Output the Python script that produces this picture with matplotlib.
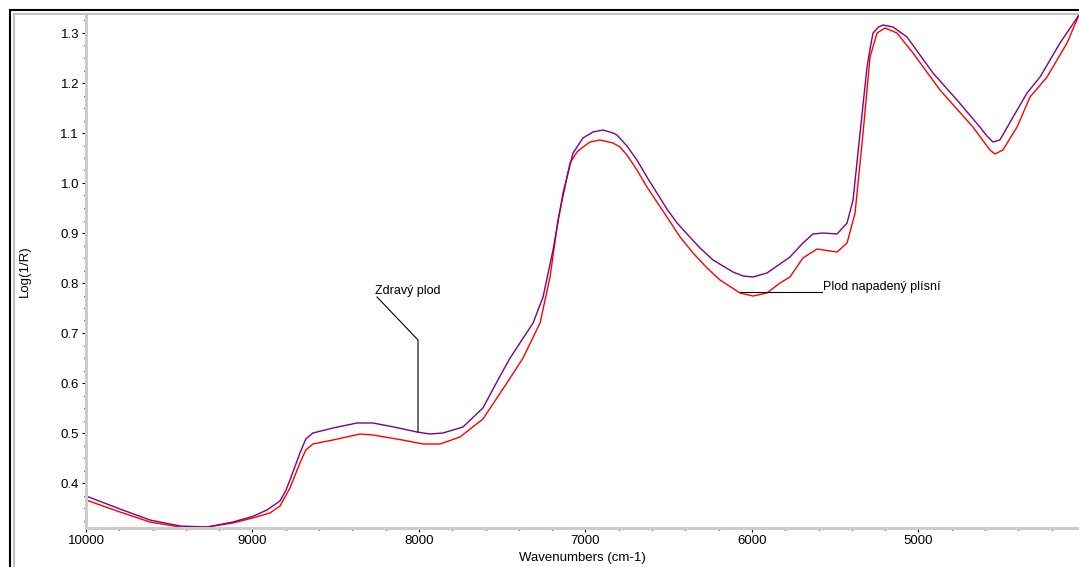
import numpy as np
import matplotlib
matplotlib.use("Agg")
import matplotlib.pyplot as plt
from matplotlib.lines import Line2D
from matplotlib.ticker import MultipleLocator

plt.rcParams['font.family'] = ['Liberation Sans', 'DejaVu Sans']

# zdravy plod (fialova)
wn_zdravy = [10000, 9796, 9616, 9435, 9273, 9117, 9000, 8913, 8835, 8800, 8775, 8715,
             8680, 8637, 8517, 8372, 8276, 8150, 8012, 7934, 7856, 7736, 7616, 7526,
             7453, 7315, 7255, 7195, 7135, 7075, 7015, 6955, 6895, 6835, 6811, 6751,
             6691, 6631, 6571, 6511, 6450, 6390, 6312, 6234, 6114, 6054, 5994, 5910,
             5832, 5772, 5694, 5634, 5574, 5489, 5429, 5393, 5351, 5309, 5290, 5273,
             5240, 5213, 5153, 5069, 4913, 4769, 4631, 4589, 4553, 4511, 4432, 4348,
             4270, 4150, 4036]
log_zdravy = [0.374, 0.348, 0.326, 0.314, 0.312, 0.322, 0.333, 0.346, 0.364, 0.385, 0.406, 0.46,
              0.488, 0.50, 0.51, 0.52, 0.52, 0.512, 0.502, 0.498, 0.50, 0.512, 0.55, 0.606,
              0.65, 0.72, 0.772, 0.866, 0.98, 1.06, 1.09, 1.102, 1.106, 1.10, 1.096, 1.074,
              1.046, 1.012, 0.98, 0.948, 0.92, 0.898, 0.87, 0.846, 0.822, 0.814, 0.812, 0.82,
              0.838, 0.852, 0.88, 0.898, 0.90, 0.898, 0.92, 0.966, 1.10, 1.232, 1.27, 1.30,
              1.312, 1.316, 1.312, 1.292, 1.22, 1.166, 1.112, 1.094, 1.082, 1.086, 1.132, 1.18,
              1.212, 1.28, 1.336]

# plod napadeny plisni (cervena)
wn_plisen = [10000, 9796, 9616, 9435, 9273, 9117, 9000, 8895, 8835, 8775, 8715, 8680,
             8637, 8517, 8354, 8276, 8100, 7976, 7874, 7754, 7616, 7472, 7375, 7273,
             7213, 7165, 7093, 7051, 7015, 6973, 6913, 6835, 6793, 6751, 6691, 6631,
             6571, 6511, 6432, 6354, 6270, 6192, 6072, 5994, 5910, 5832, 5772, 5694,
             5610, 5532, 5489, 5429, 5381, 5333, 5291, 5249, 5201, 5129, 5033, 4871,
             4673, 4571, 4541, 4493, 4408, 4330, 4228, 4108, 4036]
log_plisen = [0.366, 0.342, 0.322, 0.312, 0.312, 0.320, 0.330, 0.340, 0.354, 0.39, 0.44, 0.466,
              0.478, 0.486, 0.498, 0.496, 0.486, 0.478, 0.478, 0.492, 0.528, 0.60, 0.65, 0.72,
              0.812, 0.926, 1.04, 1.062, 1.072, 1.082, 1.086, 1.08, 1.072, 1.056, 1.026, 0.992,
              0.962, 0.932, 0.892, 0.86, 0.83, 0.806, 0.78, 0.774, 0.78, 0.80, 0.812, 0.85,
              0.868, 0.864, 0.862, 0.88, 0.94, 1.10, 1.252, 1.30, 1.31, 1.30, 1.26, 1.186,
              1.112, 1.066, 1.058, 1.066, 1.112, 1.172, 1.212, 1.28, 1.336]

W, H = 1079, 567
fig = plt.figure(figsize=(W / 100, H / 100), dpi=100)
ax = fig.add_axes([86 / W, 1 - 528 / H, 1 - 86 / W, (528 - 14) / H])

ax.plot(wn_plisen, log_plisen, color='#ff0000', lw=1.0)
ax.plot(wn_zdravy, log_zdravy, color='#800080', lw=1.0)

ax.set_xlim(10000, 4036)
ax.set_ylim(0.31, 1.338)

ax.xaxis.set_minor_locator(MultipleLocator(200))
ax.yaxis.set_minor_locator(MultipleLocator(0.025))
ax.set_yticks(np.arange(0.4, 1.31, 0.1))
ax.set_yticklabels([f"{v:.1f}" for v in np.arange(0.4, 1.31, 0.1)])
ax.set_xticks([10000, 9000, 8000, 7000, 6000, 5000])
ax.set_xticklabels(['10000', '9000', '8000', '7000', '6000', '5000'])

ax.tick_params(which='major', length=3, width=0.8, labelsize=9.5, pad=2, color='black')
ax.tick_params(which='minor', length=1.5, width=1.0, color='black')

for s in ['top', 'right']:
    ax.spines[s].set_visible(False)
for s in ['left', 'bottom']:
    ax.spines[s].set_color('#cccccc')
    ax.spines[s].set_linewidth(2.2)

ax.set_xlabel('Wavenumbers (cm-1)', fontsize=9.5, labelpad=4)
ax.set_ylabel('Log(1/R)', fontsize=9.5, labelpad=21)

# popisky
ax.plot([8252, 8006, 8006], [0.772, 0.686, 0.502], color='black', lw=0.8)
ax.text(8264, 0.784, 'Zdravý plod', fontsize=9, va='center', ha='left')
ax.plot([6072, 5580], [0.782, 0.782], color='black', lw=0.8)
ax.text(5574, 0.792, 'Plod napadený plísní', fontsize=9, va='center', ha='left')

# ramecek okna
fig.add_artist(Line2D([10 / W, 10 / W], [0, 1 - 10 / H], color='black', lw=1.5))
fig.add_artist(Line2D([13.5 / W, 13.5 / W], [0, 1 - 13.5 / H], color='#c0c0c0', lw=1.5))
fig.add_artist(Line2D([10 / W, 1], [1 - 10 / H, 1 - 10 / H], color='black', lw=1.5))
fig.add_artist(Line2D([13.5 / W, 1], [1 - 13.5 / H, 1 - 13.5 / H], color='#c0c0c0', lw=1.5))

fig.savefig('out.png', dpi=100)
